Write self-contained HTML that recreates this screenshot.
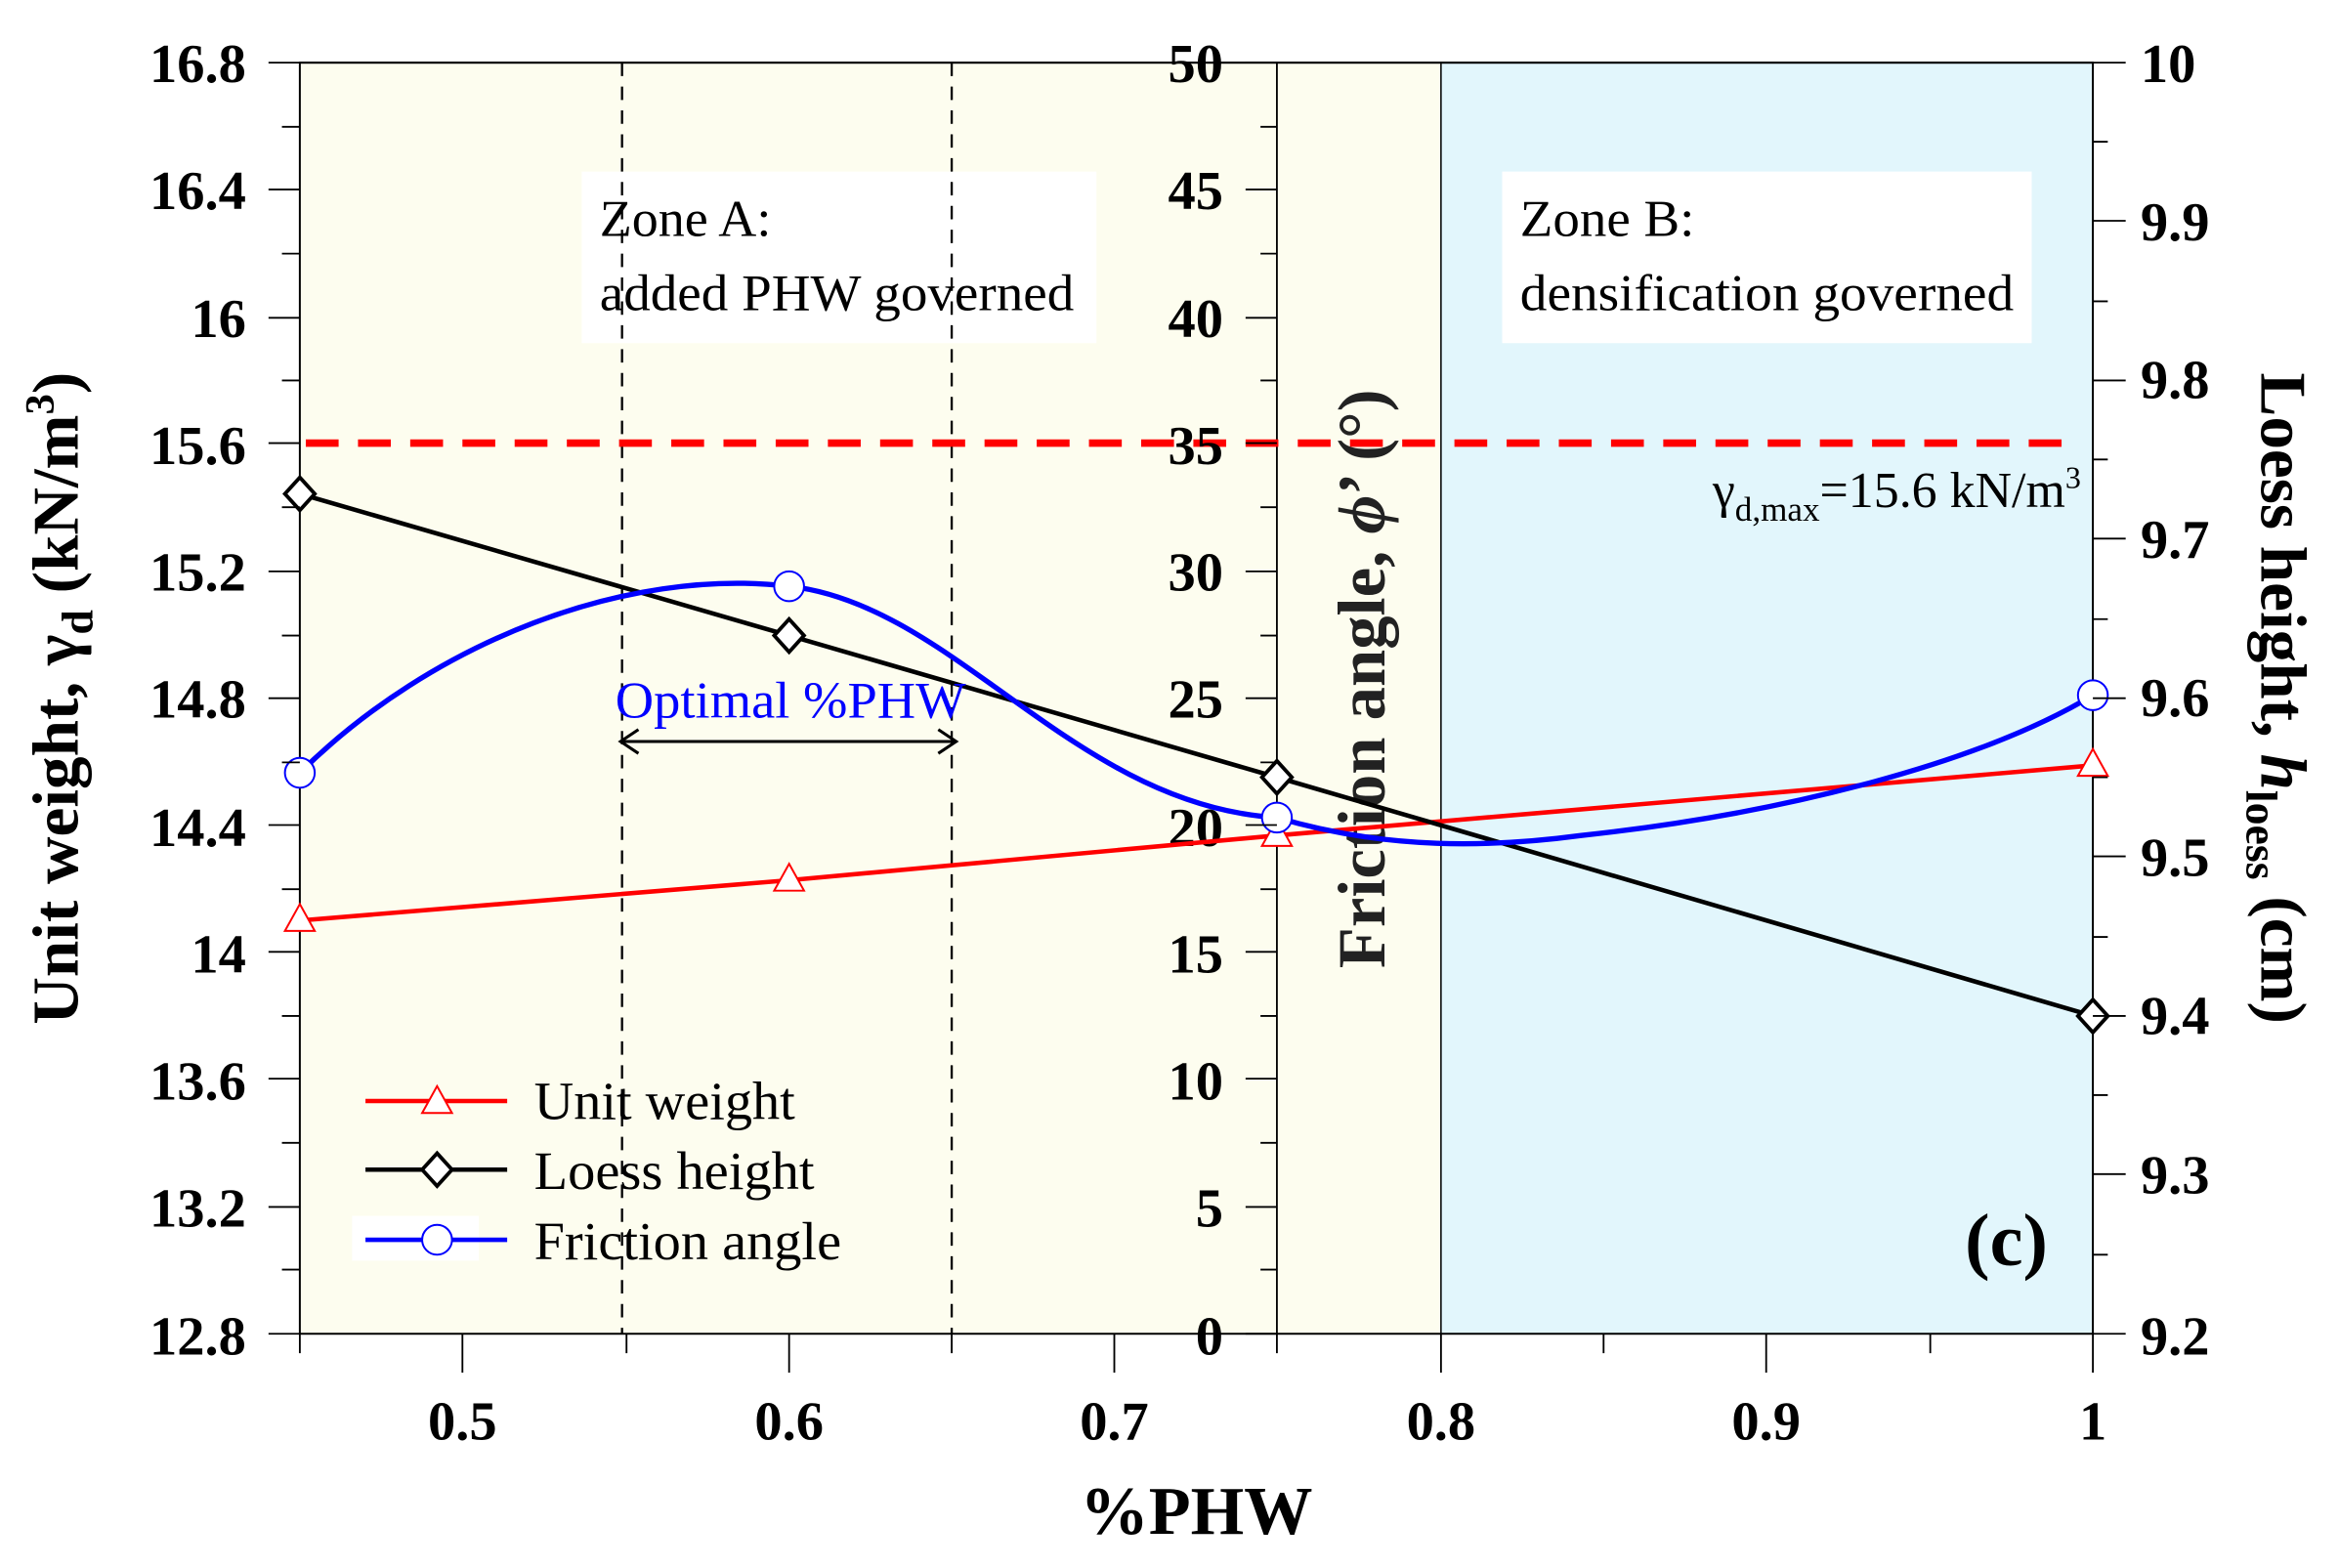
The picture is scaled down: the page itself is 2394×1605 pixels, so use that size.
<!DOCTYPE html>
<html><head><meta charset="utf-8"><style>
html,body{margin:0;padding:0;background:#fff}
svg{display:block}
text{font-family:"Liberation Serif",serif}
.t{font-weight:bold;font-size:37px}
</style></head><body>
<svg width="2394" height="1605" viewBox="0 0 1568 1051" preserveAspectRatio="none" xmlns="http://www.w3.org/2000/svg">
<rect x="201" y="42" width="765" height="852" fill="#fdfdef"/>
<rect x="966" y="42" width="437" height="852" fill="#e2f6fc"/>
<line x1="966" y1="42" x2="966" y2="894" stroke="#000" stroke-width="1"/>
<line x1="856" y1="42" x2="856" y2="894" stroke="#000" stroke-width="1.2"/>
<rect x="201" y="42" width="1202" height="852" fill="none" stroke="#000" stroke-width="1.3"/>
<rect x="390" y="115" width="345" height="115" fill="#fff"/>
<rect x="1007" y="115" width="355" height="115" fill="#fff"/>
<text x="402" y="158" font-size="35" textLength="115" lengthAdjust="spacingAndGlyphs">Zone A:</text>
<text x="402" y="208" font-size="35" textLength="318" lengthAdjust="spacingAndGlyphs">added PHW governed</text>
<text x="1019" y="158" font-size="35" textLength="117" lengthAdjust="spacingAndGlyphs">Zone B:</text>
<text x="1019" y="208" font-size="35" textLength="331" lengthAdjust="spacingAndGlyphs">densification governed</text>
<line x1="417" y1="42" x2="417" y2="894" stroke="#000" stroke-width="1.5" stroke-dasharray="9,7"/>
<line x1="638" y1="42" x2="638" y2="894" stroke="#000" stroke-width="1.5" stroke-dasharray="9,7"/>
<line x1="201" y1="42" x2="1403" y2="42" stroke="#000" stroke-width="1.3"/>
<line x1="205" y1="297" x2="1395" y2="297" stroke="#f00" stroke-width="5" stroke-dasharray="22,13"/>
<text x="1395" y="340" font-size="34" text-anchor="end">γ<tspan font-size="23" dy="9">d,max</tspan><tspan dy="-9">=15.6 kN/m</tspan><tspan font-size="21" dy="-13">3</tspan></text>
<g class="t" text-anchor="end">
<text x="165" y="55">16.8</text><text x="165" y="140">16.4</text><text x="165" y="226">16</text>
<text x="165" y="311">15.6</text><text x="165" y="396">15.2</text><text x="165" y="481">14.8</text>
<text x="165" y="567">14.4</text><text x="165" y="652">14</text><text x="165" y="737">13.6</text>
<text x="165" y="822">13.2</text><text x="165" y="908">12.8</text>
</g>
<g class="t" text-anchor="end">
<text x="820" y="55">50</text><text x="820" y="140">45</text><text x="820" y="226">40</text>
<text x="820" y="311">35</text><text x="820" y="396">30</text><text x="820" y="481">25</text>
<text x="820" y="567">20</text><text x="820" y="652">15</text><text x="820" y="737">10</text>
<text x="820" y="822">5</text><text x="820" y="908">0</text>
</g>
<g class="t">
<text x="1435" y="55">10</text><text x="1435" y="161">9.9</text><text x="1435" y="267">9.8</text>
<text x="1435" y="374">9.7</text><text x="1435" y="480">9.6</text><text x="1435" y="587">9.5</text>
<text x="1435" y="693">9.4</text><text x="1435" y="800">9.3</text><text x="1435" y="908">9.2</text>
</g>
<g class="t" text-anchor="middle">
<text x="310" y="965">0.5</text><text x="529" y="965">0.6</text><text x="747" y="965">0.7</text>
<text x="966" y="965">0.8</text><text x="1184" y="965">0.9</text><text x="1403" y="965">1</text>
</g>
<text x="802" y="1028" text-anchor="middle" font-weight="bold" font-size="46">%PHW</text>
<text transform="translate(52,468) rotate(-90)" text-anchor="middle" font-weight="bold" font-size="44">Unit weight, γ<tspan font-size="30" dy="10">d</tspan><tspan dy="-10"> (kN/m</tspan><tspan font-size="28" dy="-16">3</tspan><tspan dy="16">)</tspan></text>
<text transform="translate(928,455) rotate(-90)" text-anchor="middle" font-weight="bold" font-size="45" fill="#222">Friction angle, <tspan font-style="italic">ϕ</tspan>’ (°)</text>
<text transform="translate(1516,468) rotate(90)" text-anchor="middle" font-weight="bold" font-size="44">Loess height, <tspan font-style="italic">h</tspan><tspan font-size="30" dy="10">loess</tspan><tspan dy="-10"> (cm)</tspan></text>
<polyline points="201,617 529,590 856,560 1403,513" fill="none" stroke="#f00" stroke-width="3"/>
<polyline points="201,331 529,426 856,521 1403,681" fill="none" stroke="#000" stroke-width="3"/>
<path d="M201,518 C290,430 420,380 529,393 C640,405 720,540 856,548 C930,570 1000,568 1060,560 C1200,545 1330,510 1403,466" fill="none" stroke="#00f" stroke-width="3.5"/>
<g fill="#fff" stroke="#f00" stroke-width="1.3">
<polygon points="201,606 191,624 211,624"/><polygon points="529,579 519,597 539,597"/>
<polygon points="856,549 846,567 866,567"/><polygon points="1403,502 1393,520 1413,520"/>
</g>
<g fill="#fff" stroke="#000" stroke-width="2.5">
<polygon points="201,320 211,331 201,342 191,331"/><polygon points="529,415 539,426 529,437 519,426"/>
<polygon points="856,510 866,521 856,532 846,521"/><polygon points="1403,670 1413,681 1403,692 1393,681"/>
</g>
<g fill="#fff" stroke="#00f" stroke-width="1.3">
<ellipse cx="201" cy="518" rx="10" ry="10"/><ellipse cx="529" cy="393" rx="10" ry="10"/>
<ellipse cx="856" cy="548" rx="10" ry="10"/><ellipse cx="1403" cy="466" rx="10" ry="10"/>
</g>
<text x="530" y="481" text-anchor="middle" font-size="35" fill="#00f" textLength="235" lengthAdjust="spacingAndGlyphs">Optimal %PHW</text>
<line x1="416" y1="497" x2="641" y2="497" stroke="#000" stroke-width="2"/>
<polyline points="428,489 416,497 428,505" fill="none" stroke="#000" stroke-width="2"/>
<polyline points="629,489 641,497 629,505" fill="none" stroke="#000" stroke-width="2"/>
<rect x="236" y="815" width="85" height="30" fill="#fff"/>
<line x1="245" y1="738" x2="340" y2="738" stroke="#f00" stroke-width="3"/>
<polygon points="293,728 283,746 303,746" fill="#fff" stroke="#f00" stroke-width="1.3"/>
<line x1="245" y1="784" x2="340" y2="784" stroke="#000" stroke-width="3"/>
<polygon points="293,773 303,784 293,795 283,784" fill="#fff" stroke="#000" stroke-width="2.5"/>
<line x1="245" y1="831" x2="340" y2="831" stroke="#00f" stroke-width="3"/>
<ellipse cx="293" cy="831" rx="10" ry="10" fill="#fff" stroke="#00f" stroke-width="1.3"/>
<text x="358" y="750" font-size="36" textLength="175" lengthAdjust="spacingAndGlyphs">Unit weight</text>
<text x="358" y="797" font-size="36" textLength="188" lengthAdjust="spacingAndGlyphs">Loess height</text>
<text x="358" y="844" font-size="36" textLength="206" lengthAdjust="spacingAndGlyphs">Friction angle</text>
<text x="1345" y="848" text-anchor="middle" font-weight="bold" font-size="50">(c)</text>
<g stroke="#000" stroke-width="1.2">
<path d="M180,42H201M189,85H201M180,127H201M189,170H201M180,213H201M189,255H201M180,297H201M189,340H201M180,383H201M189,426H201M180,468H201M189,511H201M180,553H201M189,596H201M180,638H201M189,681H201M180,723H201M189,766H201M180,809H201M189,851H201M180,894H201"/>
<path d="M835,42H856M845,85H856M835,127H856M845,170H856M835,213H856M845,255H856M835,297H856M845,340H856M835,383H856M845,426H856M835,468H856M845,511H856M835,553H856M845,596H856M835,638H856M845,681H856M835,723H856M845,766H856M835,809H856M845,851H856M835,894H856"/>
<path d="M1403,42H1425M1403,95H1413M1403,148H1425M1403,202H1413M1403,255H1425M1403,308H1413M1403,361H1425M1403,415H1413M1403,468H1425M1403,521H1413M1403,574H1425M1403,628H1413M1403,681H1425M1403,734H1413M1403,787H1425M1403,841H1413M1403,894H1425"/>
<path d="M201,894V907M310,894V920M420,894V907M529,894V920M638,894V907M747,894V920M856,894V907M966,894V920M1075,894V907M1184,894V920M1294,894V907M1403,894V920"/>
</g>
</svg>
</body></html>
